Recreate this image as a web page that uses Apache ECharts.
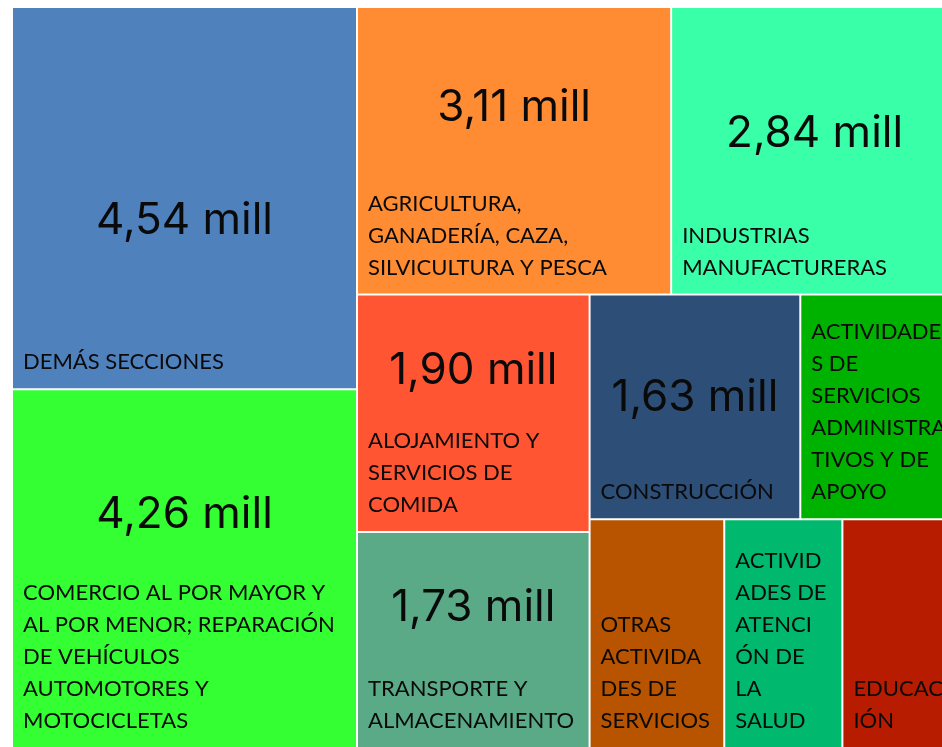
<!DOCTYPE html>
<html>
<head>
<meta charset="utf-8">
<script src="https://cdn.jsdelivr.net/npm/echarts@6/dist/echarts.min.js"></script>
<style>
  html, body { margin: 0; padding: 0; background: #fff; }
  #chart-container { width: 942px; height: 747px; overflow: hidden; }
</style>
</head>
<body>
<div id="chart-container"></div>
<script>
var sections = [
    'DEMÁS SECCIONES',
    'COMERCIO AL POR MAYOR Y AL POR MENOR; REPARACIÓN DE VEHÍCULOS AUTOMOTORES Y MOTOCICLETAS',
    'AGRICULTURA, GANADERÍA, CAZA, SILVICULTURA Y PESCA',
    'INDUSTRIAS MANUFACTURERAS',
    'ALOJAMIENTO Y SERVICIOS DE COMIDA',
    'TRANSPORTE Y ALMACENAMIENTO',
    'CONSTRUCCIÓN',
    'ACTIVIDADES DE SERVICIOS ADMINISTRATIVOS Y DE APOYO',
    'OTRAS ACTIVIDADES DE SERVICIOS',
    'ACTIVIDADES DE ATENCIÓN DE LA SALUD HUMANA',
    'EDUCACIÓN'
];
// millones
var values = [4.54, 4.26, 3.11, 2.84, 1.90, 1.73, 1.63, 1.22, 1.06, 0.93, 0.91];

var colors = ['#4f81bd', '#33ff33', '#ff8c33', '#38ffa8', '#ff5533', '#5aaa88',
    '#2d4e76', '#00b200', '#b85400', '#00b86e', '#b81c00'];

// vertical place of the big number inside each box (share of box height)
var numberY = ['56%', '35%', '35%', '44%', '32%', '35%', '46%', '40%', '40%', '40%', '40%'];

function fmt(v) {
    return v.toFixed(2).replace('.', ',') + ' mill';
}

var dom = document.getElementById('chart-container');
var myChart = echarts.init(dom, null, {renderer: 'canvas'});

var box = {left: 13, top: 8, width: 944, height: 739};

var numData = sections.map(function (s, i) {
    return {
        name: s,
        value: values[i],
        itemStyle: {color: colors[i]},
        label: {
            show: values[i] >= 1.5,
            position: ['50%', numberY[i]]
        }
    };
});

var nameData = sections.map(function (s, i) {
    return {name: s, value: values[i], itemStyle: {color: 'rgba(0,0,0,0)'}};
});

var common = {
    type: 'treemap',
    left: box.left, top: box.top, width: box.width, height: box.height,
    squareRatio: 1,
    roam: false,
    nodeClick: false,
    silent: true,
    breadcrumb: {show: false}
};

var option = {
    animation: false,
    series: [
        Object.assign({}, common, {
            itemStyle: {gapWidth: 2, borderWidth: 0, borderColor: '#fff'},
            label: {
                show: true,
                align: 'center',
                verticalAlign: 'middle',
                color: '#0a0a0a',
                fontFamily: 'Inter',
                fontSize: 44,
                formatter: function (p) {
                    return fmt(p.value);
                }
            },
            data: numData
        }),
        Object.assign({}, common, {
            itemStyle: {gapWidth: 2, borderWidth: 0, color: 'rgba(0,0,0,0)'},
            label: {
                show: true,
                position: 'insideBottomLeft',
                distance: 0,
                padding: [0, 9, 10, 10],
                color: '#0a0a0a',
                fontFamily: 'Lato',
                fontSize: 22,
                lineHeight: 32,
                overflow: 'break',
                lineOverflow: 'truncate',
                formatter: '{b}'
            },
            data: nameData
        })
    ]
};

myChart.setOption(option);
window.addEventListener('resize', myChart.resize);
</script>
</body>
</html>
